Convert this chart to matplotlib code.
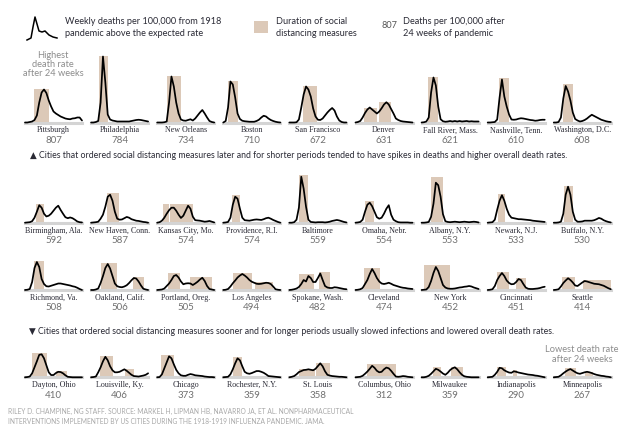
import numpy as np
import matplotlib.pyplot as plt

W, H = 640, 432
weeks = np.arange(25)

# weekly excess deaths per 100,000, weeks 0..24
row1_names = ['Pittsburgh', 'Philadelphia', 'New Orleans', 'Boston', 'San Francisco',
              'Denver', 'Fall River, Mass.', 'Nashville, Tenn.', 'Washington, D.C.']
row1_rates = [807, 784, 734, 710, 672, 631, 621, 610, 608]
row1_curves = [
    [0, 0, 2, 4, 10, 28, 80, 120, 132, 118, 88, 64, 44, 36, 30, 24, 20, 16, 14, 13, 16, 17, 20, 20, 8],
    [0, 0, 2, 6, 80, 264, 160, 32, 12, 8, 6, 4, 4, 4, 4, 4, 4, 6, 8, 10, 11, 10, 8, 6, 4],
    [0, 0, 0, 1, 4, 80, 184, 144, 80, 36, 12, 8, 7, 10, 13, 8, 16, 28, 40, 50, 36, 20, 6, 2, 0],
    [0, 6, 60, 164, 152, 100, 36, 14, 7, 5, 4, 3, 3, 3, 6, 11, 20, 27, 24, 16, 10, 6, 3, 1, 0],
    [0, 0, 0, 1, 12, 60, 112, 144, 132, 104, 56, 24, 11, 10, 16, 28, 40, 50, 58, 48, 24, 8, 2, 0, 0],
    [0, 2, 6, 20, 38, 52, 60, 52, 44, 36, 44, 57, 72, 81, 72, 54, 36, 16, 10, 6, 4, 3, 2, 1, 0],
    [0, 1, 4, 20, 120, 180, 148, 64, 13, 5, 3, 4, 6, 4, 6, 4, 6, 4, 5, 6, 4, 5, 4, 4, 4],
    [0, 0, 1, 2, 12, 100, 172, 104, 64, 32, 12, 11, 12, 15, 17, 16, 14, 12, 10, 9, 7, 8, 10, 11, 11],
    [0, 0, 2, 20, 96, 146, 124, 88, 40, 14, 8, 4, 6, 10, 16, 24, 31, 26, 21, 16, 11, 8, 5, 3, 2],
]
# social distancing periods: (start week, end week, bar height)
row1_bars = [
    [(3.8, 10.2, 134)], [(3.2, 7.1, 268)], [(4.1, 10.0, 185)], [(2.0, 6.2, 168)],
    [(5.9, 11.5, 148)], [(3.6, 9.2, 59), (10.0, 14.9, 84)], [(2.6, 7.0, 181)],
    [(4.9, 9.0, 179)], [(3.7, 8.2, 155)],
]

row2_names = ['Birmingham, Ala.', 'New Haven, Conn.', 'Kansas City, Mo.', 'Providence, R.I.',
              'Baltimore', 'Omaha, Nebr.', 'Albany, N.Y.', 'Newark, N.J.', 'Buffalo, N.Y.']
row2_rates = [592, 587, 574, 574, 559, 554, 553, 533, 530]
row2_curves = [
    [0, 1, 2, 6, 20, 44, 70, 60, 36, 25, 28, 36, 48, 60, 68, 51, 36, 22, 18, 21, 18, 12, 5, 2, 1],
    [0, 1, 2, 4, 16, 32, 64, 104, 112, 88, 44, 16, 12, 13, 18, 23, 20, 14, 11, 8, 7, 5, 3, 2, 0],
    [0, 2, 8, 20, 36, 50, 60, 60, 48, 32, 19, 28, 48, 68, 56, 24, 10, 9, 8, 6, 4, 5, 7, 4, 1],
    [0, 1, 3, 20, 72, 104, 96, 56, 20, 10, 9, 8, 10, 12, 13, 12, 11, 14, 18, 20, 16, 11, 7, 3, 0],
    [0, 0, 2, 12, 60, 184, 136, 64, 12, 3, 2, 1, 2, 2, 2, 1, 2, 4, 7, 9, 11, 9, 6, 3, 1],
    [0, 1, 3, 12, 44, 72, 80, 66, 44, 22, 16, 20, 36, 56, 70, 32, 12, 6, 2, 1, 1, 1, 1, 0, 0],
    [0, 0, 1, 3, 24, 76, 160, 150, 104, 34, 6, 3, 2, 3, 4, 3, 2, 3, 4, 3, 2, 3, 4, 3, 1],
    [0, 1, 2, 12, 52, 88, 110, 88, 56, 32, 20, 18, 16, 14, 14, 13, 12, 11, 10, 8, 7, 6, 5, 4, 3],
    [0, 0, 1, 4, 36, 112, 144, 112, 44, 12, 4, 4, 5, 8, 8, 8, 8, 10, 14, 19, 16, 10, 6, 3, 1],
]
row2_bars = [
    [(4.5, 8.1, 75)], [(6.6, 11.9, 120)], [(2.4, 4.8, 74), (5.5, 15.1, 74)],
    [(3.8, 7.0, 111)], [(4.2, 7.8, 192)], [(3.8, 7.8, 88)], [(4.0, 8.8, 182)],
    [(4.3, 7.2, 114)], [(4.3, 8.2, 148)],
]

row3_names = ['Richmond, Va.', 'Oakland, Calif.', 'Portland, Oreg.', 'Los Angeles',
              'Spokane, Wash.', 'Cleveland', 'New York', 'Cincinnati', 'Seattle']
row3_rates = [508, 506, 505, 494, 482, 474, 452, 451, 414]
row3_curves = [
    [0, 1, 4, 32, 88, 112, 92, 44, 24, 15, 14, 17, 20, 23, 26, 26, 24, 22, 20, 18, 15, 13, 9, 4, 0],
    [0, 0, 2, 6, 28, 56, 88, 104, 86, 56, 26, 15, 12, 11, 14, 19, 28, 39, 48, 46, 34, 18, 5, 2, 0],
    [0, 1, 2, 6, 16, 26, 40, 56, 60, 50, 34, 23, 26, 27, 26, 20, 26, 33, 42, 49, 36, 16, 4, 2, 0],
    [0, 1, 4, 14, 27, 38, 50, 58, 64, 58, 50, 40, 33, 29, 25, 24, 25, 27, 29, 28, 24, 14, 3, 1, 0],
    [0, 1, 3, 6, 12, 24, 40, 34, 56, 48, 32, 32, 48, 66, 40, 16, 10, 8, 8, 11, 10, 8, 6, 4, 3],
    [0, 1, 3, 8, 24, 40, 64, 84, 68, 48, 34, 26, 24, 26, 29, 25, 20, 17, 14, 11, 9, 8, 6, 5, 4],
    [0, 1, 2, 12, 36, 68, 92, 76, 48, 20, 10, 6, 5, 5, 6, 8, 10, 11, 13, 14, 16, 14, 10, 7, 4],
    [0, 1, 3, 16, 40, 56, 68, 56, 38, 28, 23, 24, 32, 44, 40, 24, 10, 5, 4, 4, 5, 6, 8, 11, 13],
    [0, 1, 3, 14, 28, 38, 47, 40, 30, 18, 16, 23, 30, 36, 34, 31, 28, 25, 24, 23, 20, 17, 12, 7, 3],
]
row3_bars = [
    [(3.9, 8.2, 116)], [(4.1, 11.1, 109), (17.7, 22.1, 53)], [(4.4, 9.8, 67), (13.8, 23.0, 53)],
    [(4.0, 12.0, 69), (13.5, 21.0, 31)], [(4.2, 10.2, 64), (12.3, 16.9, 71)],
    [(3.5, 10.2, 87)], [(0.9, 12.1, 100)], [(3.8, 8.9, 73), (12.1, 16.3, 49)],
    [(3.6, 8.9, 51), (12.5, 24.0, 40)],
]

row4_names = ['Dayton, Ohio', 'Louisville, Ky.', 'Chicago', 'Rochester, N.Y.', 'St. Louis',
              'Columbus, Ohio', 'Milwaukee', 'Indianapolis', 'Minneapolis']
row4_rates = [410, 406, 373, 359, 358, 312, 359, 290, 267]
row4_curves = [
    [0, 1, 3, 16, 40, 64, 90, 92, 76, 48, 20, 9, 9, 17, 22, 21, 16, 8, 2, 1, 0, 0, 0, 0, 0],
    [0, 1, 3, 20, 40, 64, 82, 68, 44, 28, 20, 20, 22, 27, 32, 26, 18, 10, 5, 4, 3, 5, 7, 10, 16],
    [0, 1, 12, 36, 60, 84, 76, 52, 30, 16, 8, 6, 6, 10, 13, 11, 8, 7, 6, 5, 3, 2, 1, 1, 0],
    [0, 1, 2, 12, 32, 56, 76, 68, 44, 22, 16, 14, 17, 21, 25, 25, 22, 18, 12, 5, 4, 3, 2, 1, 0],
    [0, 2, 5, 12, 21, 25, 29, 30, 32, 30, 28, 34, 45, 56, 44, 24, 10, 7, 5, 4, 3, 2, 2, 1, 0],
    [0, 1, 2, 6, 14, 23, 34, 46, 38, 26, 20, 22, 32, 39, 36, 26, 14, 3, 2, 3, 5, 4, 2, 1, 0],
    [0, 0, 2, 6, 14, 24, 34, 30, 23, 15, 10, 18, 29, 36, 40, 32, 20, 10, 4, 2, 1, 0, 0, 0, 0],
    [0, 1, 2, 10, 22, 38, 36, 28, 23, 19, 18, 24, 22, 19, 17, 15, 13, 11, 10, 9, 7, 6, 4, 2, 0],
    [0, 1, 2, 8, 16, 23, 29, 33, 27, 21, 16, 14, 17, 20, 22, 20, 17, 13, 10, 8, 6, 5, 3, 2, 0],
]
row4_bars = [
    [(3.1, 9.2, 98), (13.1, 17.7, 25)], [(3.8, 9.2, 85), (14.1, 17.9, 34)], [(1.7, 7.1, 89)],
    [(4.0, 7.9, 82)], [(3.9, 10.6, 32), (11.3, 17.0, 58)], [(4.7, 16.9, 52)],
    [(4.7, 8.2, 40), (12.4, 17.6, 40)], [(4.1, 7.6, 42), (10.5, 12.3, 29)],
    [(4.6, 9.2, 38), (13.3, 16.4, 22)],
]

# little sample curve for the legend
legend_x = [0, 4, 6, 8, 10, 12, 15, 18, 22, 26, 30]
legend_y = [1, 3, 14, 24, 17, 10, 9, 10, 6, 4, 3]

TAN = '#dcc9b8'
DARK = '#2a2a35'
GREY = '#8c8c8c'
SANS = ['Lato', 'DejaVu Sans']
SERIF = ['Liberation Serif', 'DejaVu Serif']

fig = plt.figure(figsize=(6.4, 4.32), dpi=100)


def px_axes(x, base, w, h):
    ax = fig.add_axes([x / W, 1 - base / H, w / W, h / H])
    ax.axis('off')
    return ax


def txt(x, y, s, **kw):
    fig.text(x / W, 1 - y / H, s, **kw)


rows = [
    (row1_names, row1_rates, row1_curves, row1_bars, 122.5),
    (row2_names, row2_rates, row2_curves, row2_bars, 222.7),
    (row3_names, row3_rates, row3_curves, row3_bars, 290.0),
    (row4_names, row4_rates, row4_curves, row4_bars, 377.3),
]

for names, rates, curves, bars, base in rows:
    for i in range(len(names)):
        x0 = 25 + 66.1 * i
        ax = px_axes(x0, base, 57, 70)
        for a, b, h in bars[i]:
            ax.bar(a, h, width=b - a, align='edge', color=TAN, linewidth=0, zorder=1)
        ax.plot([0, 24], [0, 0], color='#d4d4d4', lw=2.2, clip_on=False, zorder=2)
        ax.plot(weeks, curves[i], color='black', lw=1.25, clip_on=False, zorder=3,
                solid_joinstyle='round', solid_capstyle='round')
        ax.set_xlim(0, 24)
        ax.set_ylim(0, 280)
        txt(x0 + 28.5, base + 8, names[i], ha='center', va='center', fontsize=5.8,
            family=SERIF, color=DARK)
        txt(x0 + 28.5, base + 17.8, str(rates[i]), ha='center', va='center', fontsize=7,
            family=SANS, color='#707070')

# legend
lax = px_axes(27, 41, 30, 25)
lax.plot(legend_x, legend_y, color='black', lw=1.1, clip_on=False)
lax.set_xlim(0, 30)
lax.set_ylim(0, 25)
txt(65, 22, 'Weekly deaths per 100,000 from 1918', fontsize=6.6, family=SANS, color=DARK, va='center')
txt(65, 33, 'pandemic above the expected rate', fontsize=6.6, family=SANS, color=DARK, va='center')
sq = px_axes(254, 33, 14, 12)
sq.bar(0, 1, width=1, align='edge', color=TAN, linewidth=0)
sq.set_xlim(0, 1)
sq.set_ylim(0, 1)
txt(276, 22, 'Duration of social', fontsize=6.6, family=SANS, color=DARK, va='center')
txt(276, 33, 'distancing measures', fontsize=6.6, family=SANS, color=DARK, va='center')
txt(382, 26, '807', fontsize=6.6, family=SANS, color='#555555', va='center')
txt(403, 22, 'Deaths per 100,000 after', fontsize=6.6, family=SANS, color=DARK, va='center')
txt(403, 33, '24 weeks of pandemic', fontsize=6.6, family=SANS, color=DARK, va='center')

# annotations
for yy, s in zip([56, 64.5, 73], ['Highest', 'death rate', 'after 24 weeks']):
    txt(53, yy, s, ha='center', va='center', fontsize=6.7, family=SANS, color=GREY)
for yy, s in zip([350, 359], ['Lowest death rate', 'after 24 weeks']):
    txt(582, yy, s, ha='center', va='center', fontsize=6.7, family=SANS, color=GREY)

txt(30, 156, '\u25b2 Cities that ordered social distancing measures later and for shorter periods '
    'tended to have spikes in deaths and higher overall death rates.',
    fontsize=6.35, family=SANS, color=DARK, va='center')
txt(29, 331.5, '\u25bc Cities that ordered social distancing measures sooner and for longer periods '
    'usually slowed infections and lowered overall death rates.',
    fontsize=6.35, family=SANS, color=DARK, va='center')

txt(8, 411, 'RILEY D. CHAMPINE, NG STAFF. SOURCE: MARKEL H, LIPMAN HB, NAVARRO JA, ET AL. NONPHARMACEUTICAL',
    fontsize=4.8, family=SANS, color='#a8a8a8', va='center')
txt(8, 421, 'INTERVENTIONS IMPLEMENTED BY US CITIES DURING THE 1918-1919 INFLUENZA PANDEMIC. JAMA.',
    fontsize=4.8, family=SANS, color='#a8a8a8', va='center')

fig.savefig('out.png', dpi=100)
